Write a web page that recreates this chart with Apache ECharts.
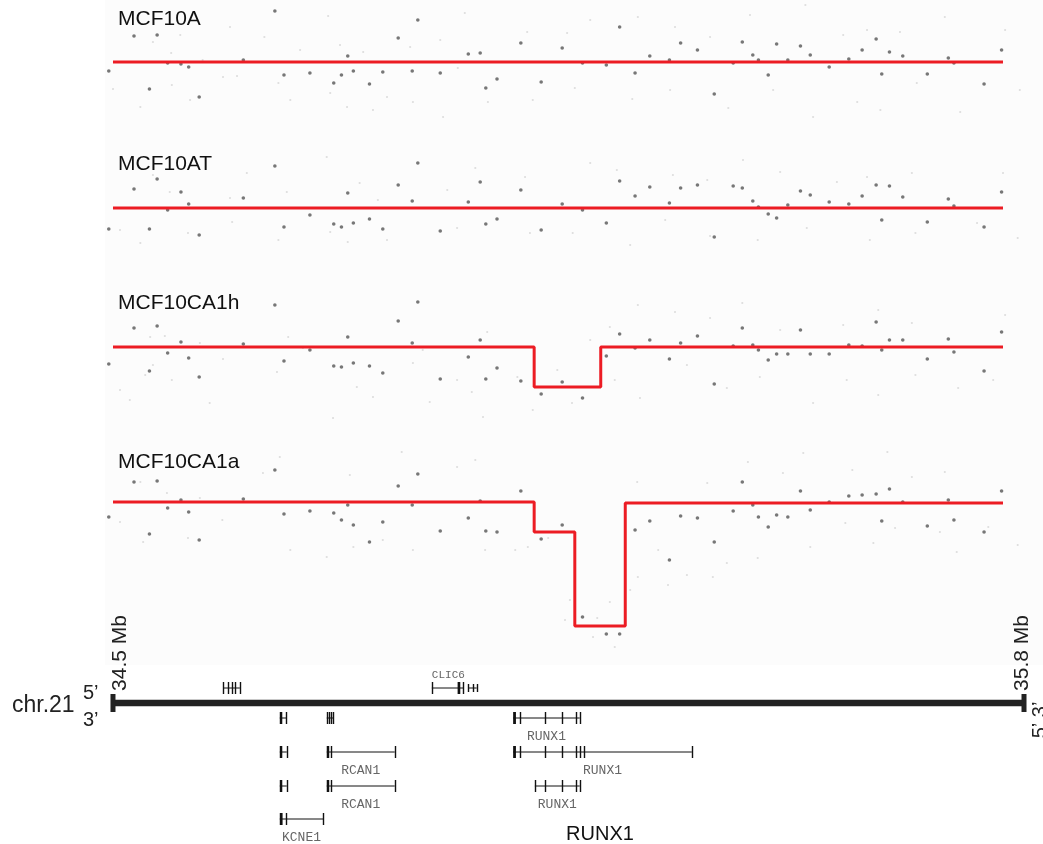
<!DOCTYPE html>
<html><head><meta charset="utf-8">
<script src="https://cdn.jsdelivr.net/npm/echarts@6/dist/echarts.min.js"></script>
<style>html,body{margin:0;padding:0;background:#fff}#c{width:1043px;height:844px}</style>
</head><body><div id="c"></div><script>
// ---------- DATA ----------
const panelNames = ['MCF10A', 'MCF10AT', 'MCF10CA1h', 'MCF10CA1a'];
const probeMb = [
 34.494, 34.530, 34.552, 34.563, 34.578, 34.597, 34.608, 34.623, 34.686, 34.731,
 34.744, 34.781, 34.815, 34.826, 34.835, 34.843, 34.866, 34.885, 34.907, 34.927,
 34.935, 34.967, 35.007, 35.024, 35.032, 35.048, 35.082, 35.111, 35.141, 35.170,
 35.204, 35.223, 35.245, 35.266, 35.294, 35.310, 35.334, 35.358, 35.385, 35.398,
 35.413, 35.421, 35.435, 35.447, 35.463, 35.481, 35.495, 35.522, 35.550, 35.569,
 35.589, 35.597, 35.608, 35.627, 35.662, 35.692, 35.700, 35.743, 35.768];
const log2_MCF10A = [
 -0.09, 0.26, -0.27, 0.27, -0.01, -0.02, -0.05, -0.35, 0.02, 0.51,
 -0.13, -0.11, -0.21, -0.13, 0.06, -0.09, -0.22, -0.10, 0.24, -0.09,
 0.42, -0.11, 0.08, 0.09, -0.26, -0.17, 0.19, -0.20, 0.14, -0.01,
 -0.03, 0.35, -0.11, 0.06, 0.02, 0.19, 0.12, -0.32, -0.01, 0.20,
 0.07, 0.02, -0.13, 0.18, 0.02, 0.16, 0.07, -0.05, 0.03, 0.12,
 0.23, -0.12, 0.10, 0.06, -0.12, 0.04, -0.01, -0.22, 0.12];
const log2_MCF10AT = [
 -0.21, 0.19, -0.21, 0.29, -0.02, 0.16, 0.04, -0.27, 0.10, 0.42,
 -0.19, -0.07, -0.16, -0.19, 0.15, -0.15, -0.11, -0.21, 0.23, 0.07,
 0.45, -0.23, 0.06, 0.26, -0.16, -0.11, 0.18, -0.22, 0.04, -0.02,
 -0.15, 0.27, 0.12, 0.21, 0.05, 0.20, 0.23, -0.29, 0.22, 0.20,
 0.07, 0.01, -0.06, -0.10, 0.03, 0.17, 0.13, 0.06, 0.04, 0.12,
 0.23, -0.12, 0.22, 0.11, -0.14, 0.09, 0.02, -0.19, 0.16];
const log2_MCF10CA1h = [
 -0.17, 0.19, -0.24, 0.21, -0.06, 0.05, -0.11, -0.30, 0.03, 0.42,
 -0.14, -0.03, -0.19, -0.20, 0.10, -0.16, -0.19, -0.26, 0.26, 0.04,
 0.45, -0.32, -0.10, 0.07, -0.32, -0.21, -0.34, -0.47, -0.35, -0.51,
 -0.09, 0.13, -0.01, 0.07, -0.12, 0.04, 0.11, -0.37, 0.01, 0.19,
 0.02, -0.03, -0.13, -0.07, -0.07, 0.17, -0.07, -0.07, 0.02, 0.01,
 0.25, -0.03, 0.07, 0.07, -0.12, 0.08, -0.05, -0.24, 0.15];
const log2_MCF10CA1a = [
 -0.15, 0.20, -0.32, 0.21, -0.06, 0.02, -0.10, -0.38, 0.03, 0.32,
 -0.12, -0.09, -0.11, -0.18, -0.03, -0.23, -0.40, -0.20, 0.16, -0.03,
 0.28, -0.29, -0.16, 0.01, -0.29, -0.30, 0.11, -0.37, -0.23, -1.15,
 -1.32, -1.32, -0.28, -0.19, -0.58, -0.14, -0.16, -0.40, -0.09, 0.20,
 -0.03, -0.15, -0.25, -0.13, -0.15, 0.11, -0.08, 0.00, 0.06, 0.07,
 0.08, -0.19, 0.13, 0.00, -0.24, 0.02, -0.18, -0.30, 0.11];
// faint (low-weight) probes: [Mb, log2]
const faint_MCF10A = [[34.557,0.20],[34.596,0.27],[34.583,0.09],[34.628,0.02],[34.667,0.35],[34.716,0.25],[34.767,0.12],[34.807,0.46],[34.824,0.17],[34.857,0.10],[34.924,0.15],[34.967,0.22],[35.002,0.49],[35.091,0.30],[34.500,-0.27],[34.539,-0.45],[34.584,-0.23],[34.610,-0.38],[34.657,-0.15],[34.677,-0.14],[34.736,-0.21],[34.753,-0.38],[34.810,-0.31],[34.834,-0.45],[34.871,-0.48],[34.891,-0.35],[34.928,-0.40],[34.971,-0.55],[34.992,-0.06],[35.035,-0.40],[35.099,-0.38],[35.148,0.29],[35.181,0.42],[35.249,0.45],[35.302,0.35],[35.352,0.25],[35.409,0.47],[35.488,0.57],[35.542,0.27],[35.576,0.32],[35.623,0.30],[35.687,0.45],[35.773,0.32],[35.159,-0.26],[35.241,-0.37],[35.295,-0.28],[35.378,-0.46],[35.442,-0.28],[35.499,-0.55],[35.562,-0.40],[35.595,-0.48],[35.647,-0.21],[35.709,-0.50],[35.794,-0.28]];
const faint_MCF10AT = [[34.557,0.33],[34.581,0.16],[34.667,0.10],[34.691,0.35],[34.748,0.16],[34.805,0.51],[34.852,0.25],[34.878,0.08],[34.977,0.18],[35.017,0.40],[35.088,0.31],[34.510,-0.22],[34.539,-0.35],[34.607,-0.25],[34.670,-0.14],[34.736,-0.32],[34.810,-0.24],[34.835,-0.34],[34.891,-0.32],[34.991,-0.20],[35.095,-0.25],[35.181,0.45],[35.219,0.38],[35.299,0.33],[35.348,0.28],[35.399,0.48],[35.452,0.36],[35.533,0.26],[35.576,0.31],[35.640,0.35],[35.770,0.35],[35.156,-0.25],[35.238,-0.37],[35.288,-0.12],[35.352,-0.28],[35.420,-0.32],[35.490,-0.20],[35.580,-0.32],[35.645,-0.25],[35.733,-0.15],[35.791,-0.30]];
const faint_MCF10CA1h = [[34.553,0.10],[34.574,0.11],[34.624,0.04],[34.557,-0.18],[34.546,-0.28],[34.584,-0.33],[34.638,-0.56],[34.524,-0.53],[34.510,-0.43],[34.657,-0.12],[34.734,-0.25],[34.750,0.10],[34.771,-0.01],[34.814,-0.71],[34.848,-0.40],[34.871,-0.50],[34.928,-0.16],[34.942,-0.03],[34.952,-0.55],[34.991,-0.33],[35.012,-0.45],[35.034,0.15],[35.028,-0.70],[35.077,-0.30],[35.099,-0.63],[35.134,-0.23],[35.155,-0.56],[35.181,0.07],[35.209,0.20],[35.249,0.42],[35.302,0.35],[35.352,0.29],[35.398,0.44],[35.452,0.17],[35.542,0.22],[35.592,0.37],[35.640,0.24],[35.773,0.32],[35.216,-0.33],[35.252,-0.51],[35.319,-0.18],[35.376,-0.41],[35.423,-0.30],[35.499,-0.56],[35.547,-0.33],[35.592,-0.48],[35.645,-0.28],[35.706,-0.41],[35.756,-0.33]];
const faint_MCF10CA1a = [[34.539,0.20],[34.577,0.09],[34.624,0.04],[34.714,0.29],[34.738,0.45],[34.838,0.27],[34.912,0.50],[34.991,0.35],[35.017,0.42],[34.510,-0.20],[34.543,-0.40],[34.607,-0.36],[34.656,-0.18],[34.753,-0.48],[34.805,-0.55],[34.843,-0.45],[34.885,-0.38],[34.928,-0.48],[35.031,-0.48],[35.092,-0.45],[35.074,-0.48],[35.121,-0.36],[35.152,-0.98],[35.145,-1.18],[35.191,-1.16],[35.209,-1.00],[35.185,-1.35],[35.216,-1.45],[35.238,-0.88],[35.249,-0.75],[35.248,0.20],[35.278,-0.48],[35.292,-0.83],[35.319,-0.73],[35.348,0.19],[35.356,-0.75],[35.376,-0.61],[35.406,0.40],[35.420,-0.56],[35.456,0.29],[35.485,0.49],[35.555,0.32],[35.605,0.50],[35.640,0.25],[35.687,0.30],[35.545,-0.21],[35.616,-0.26],[35.680,-0.30],[35.749,-0.25],[35.791,-0.43],[35.495,-0.45],[35.585,-0.41],[35.704,-0.50]];
// segmentation: [startMb, endMb, log2]
const seg_MCF10A = [[34.5, 35.77, 0]];
const seg_MCF10AT = [[34.5, 35.77, 0]];
const seg_MCF10CA1h = [[34.5, 35.101, 0], [35.101, 35.196, -0.40], [35.196, 35.77, 0]];
const seg_MCF10CA1a = [[34.5, 35.101, 0], [35.101, 35.159, -0.30], [35.159, 35.231, -1.24], [35.231, 35.77, -0.01]];
// chromosome region
const chromName = 'chr.21';
const chromStartMb = 34.5, chromEndMb = 35.8;
const chromLabels = ['34.5 Mb', '35.8 Mb'];
const focusGene = 'RUNX1';
// genes: [label, lane, startMb, endMb, exonsMb, thickExon, small]
const genes = [
 ['', -1, 34.657, 34.681, [34.657, 34.664, 34.670, 34.674, 34.681], null, false],
 ['CLIC6', -1, 34.955, 35.000, [34.955, 34.992, 35.000], [34.992, 34.995], false],
 ['', -1, 35.007, 35.019, [35.007, 35.014, 35.019], null, true],
 ['', 1, 34.738, 34.747, [34.747], [34.738, 34.741], false],
 ['', 1, 34.805, 34.814, [34.805, 34.808, 34.811, 34.814], null, false],
 ['RUNX1', 1, 35.071, 35.166, [35.081, 35.116, 35.141, 35.161, 35.166], [35.071, 35.075], false],
 ['', 2, 34.738, 34.748, [34.748], [34.738, 34.741], false],
 ['RCAN1', 2, 34.805, 34.902, [34.811, 34.902], [34.805, 34.808], false],
 ['RUNX1', 2, 35.071, 35.326, [35.081, 35.116, 35.141, 35.161, 35.166, 35.172, 35.326], [35.071, 35.075], false],
 ['', 3, 34.738, 34.748, [34.748], [34.738, 34.741], false],
 ['RCAN1', 3, 34.805, 34.902, [34.811, 34.902], [34.805, 34.808], false],
 ['RUNX1', 3, 35.102, 35.166, [35.102, 35.116, 35.141, 35.161, 35.166], null, false],
 ['KCNE1', 4, 34.738, 34.800, [34.747, 34.800], [34.738, 34.742], false]
];

// ---------- LAYOUT ----------
const XMIN = 34.4886, XMAX = 35.8271;
const panelLayout = [
  {top: 0, height: 146, ymin: -0.84, ymax: 0.62, labelY: 19},
  {top: 146, height: 139, ymin: -0.77, ymax: 0.62, labelY: 164},
  {top: 285, height: 155, ymin: -0.93, ymax: 0.62, labelY: 303},
  {top: 440, height: 225, ymin: -1.63, ymax: 0.62, labelY: 462}
];
const laneY = {'-1': 688, '0': 703, '1': 718, '2': 752, '3': 786, '4': 819};
const log2Sets = [log2_MCF10A, log2_MCF10AT, log2_MCF10CA1h, log2_MCF10CA1a];
const faintSets = [faint_MCF10A, faint_MCF10AT, faint_MCF10CA1h, faint_MCF10CA1a];
const segSets = [seg_MCF10A, seg_MCF10AT, seg_MCF10CA1h, seg_MCF10CA1a];
const SANS = '"Liberation Sans", Arial, Helvetica, sans-serif';
const MONO = '"Liberation Mono", "DejaVu Sans Mono", monospace';

const grid = [], xAxis = [], yAxis = [], series = [];
panelLayout.forEach((p, i) => {
  grid.push({left: 105, right: 0, top: p.top, height: p.height, show: true,
    backgroundColor: '#fcfcfc', borderWidth: 0});
  xAxis.push({type: 'value', gridIndex: i, min: XMIN, max: XMAX, show: false});
  yAxis.push({type: 'value', gridIndex: i, min: p.ymin, max: p.ymax, show: false});
  series.push({type: 'scatter', xAxisIndex: i, yAxisIndex: i, silent: true,
    symbol: 'circle', symbolSize: 2.2, itemStyle: {color: '#d6d6d6'},
    data: faintSets[i], clip: false, z: 1});
  series.push({type: 'scatter', xAxisIndex: i, yAxisIndex: i, silent: true,
    symbol: 'circle', symbolSize: 3.6, itemStyle: {color: '#555'},
    data: probeMb.map((m, k) => [m, log2Sets[i][k]]), clip: false, z: 2});
  const pts = [];
  segSets[i].forEach(s => { pts.push([s[0], s[2]]); pts.push([s[1], s[2]]); });
  series.push({type: 'line', xAxisIndex: i, yAxisIndex: i, silent: true,
    showSymbol: false, data: pts, lineStyle: {color: '#ec1c24', width: 3},
    z: 3, animation: false});
});
// track grid
grid.push({left: 105, right: 0, top: 665, height: 179, show: false});
xAxis.push({type: 'value', gridIndex: 4, min: XMIN, max: XMAX, show: false});
yAxis.push({type: 'value', gridIndex: 4, min: 0, max: 1, show: false});

series.push({
  type: 'custom', xAxisIndex: 4, yAxisIndex: 4, silent: true,
  data: [[0]],
  renderItem: function (params, api) {
    const x1 = api.coord([chromStartMb, 0])[0];
    const x2 = api.coord([chromEndMb, 0])[0];
    const y = laneY['0'];
    return {type: 'group', children: [
      {type: 'line', shape: {x1: x1, y1: y, x2: x2, y2: y}, style: {stroke: '#222', lineWidth: 6.5}},
      {type: 'rect', shape: {x: x1 - 2.5, y: y - 9, width: 5, height: 18}, style: {fill: '#222'}},
      {type: 'rect', shape: {x: x2 - 2.5, y: y - 9, width: 5, height: 18}, style: {fill: '#222'}}
    ]};
  }
});
series.push({
  type: 'custom', xAxisIndex: 4, yAxisIndex: 4, silent: true,
  data: genes.map((g, i) => [i]),
  renderItem: function (params, api) {
    const g = genes[params.dataIndex];
    const y = laneY[String(g[1])];
    const X = m => api.coord([m, 0])[0];
    const h = g[6] ? 4 : 6;
    const ch = [];
    ch.push({type: 'line', shape: {x1: X(g[2]), y1: y, x2: X(g[3]), y2: y}, style: {stroke: '#111', lineWidth: 1}});
    g[4].forEach(e => {
      const xx = Math.round(X(e)) + 0.5;
      ch.push({type: 'line', shape: {x1: xx, y1: y - h, x2: xx, y2: y + h}, style: {stroke: '#111', lineWidth: 1.4}});
    });
    if (g[5]) {
      const a = X(g[5][0]), b = X(g[5][1]);
      ch.push({type: 'rect', shape: {x: a, y: y - h, width: Math.max(2.5, b - a), height: 2 * h}, style: {fill: '#111'}});
    }
    if (g[0]) {
      if (g[1] < 0) {
        ch.push({type: 'text', style: {text: g[0], x: X(g[2]), y: y - 13, align: 'left', verticalAlign: 'middle', font: '11px ' + MONO, fill: '#666'}});
      } else {
        ch.push({type: 'text', style: {text: g[0], x: (X(g[2]) + X(g[3])) / 2, y: y + 19, align: 'center', verticalAlign: 'middle', font: '13px ' + MONO, fill: '#666'}});
      }
    }
    return {type: 'group', children: ch};
  }
});

const graphic = [];
panelLayout.forEach((p, i) => {
  graphic.push({type: 'text', x: 118, y: p.labelY, silent: true, z: 10,
    style: {text: panelNames[i], font: '21px ' + SANS, fill: '#111', verticalAlign: 'middle'}});
});
graphic.push({type: 'text', x: 12, y: 706, style: {text: chromName, font: '23px ' + SANS, fill: '#222', verticalAlign: 'middle'}});
graphic.push({type: 'text', x: 83, y: 693, style: {text: "5\u2019", font: '20px ' + SANS, fill: '#222', verticalAlign: 'middle'}});
graphic.push({type: 'text', x: 83, y: 720, style: {text: "3\u2019", font: '20px ' + SANS, fill: '#222', verticalAlign: 'middle'}});
graphic.push({type: 'text', x: 120, y: 653, rotation: Math.PI / 2, style: {text: chromLabels[0], font: '21px ' + SANS, fill: '#222', align: 'center', verticalAlign: 'middle'}});
graphic.push({type: 'text', x: 1022, y: 653, rotation: Math.PI / 2, style: {text: chromLabels[1], font: '21px ' + SANS, fill: '#222', align: 'center', verticalAlign: 'middle'}});
graphic.push({type: 'text', x: 1040, y: 720, rotation: Math.PI / 2, style: {text: "5\u2019 3\u2019", font: '20px ' + SANS, fill: '#222', align: 'center', verticalAlign: 'middle'}});
graphic.push({type: 'text', x: 600, y: 834, style: {text: focusGene, font: '20px ' + SANS, fill: '#111', align: 'center', verticalAlign: 'middle'}});

const chart = echarts.init(document.getElementById('c'), null, {renderer: 'canvas'});
chart.setOption({animation: false, backgroundColor: '#ffffff', grid, xAxis, yAxis, series, graphic});
</script></body></html>
